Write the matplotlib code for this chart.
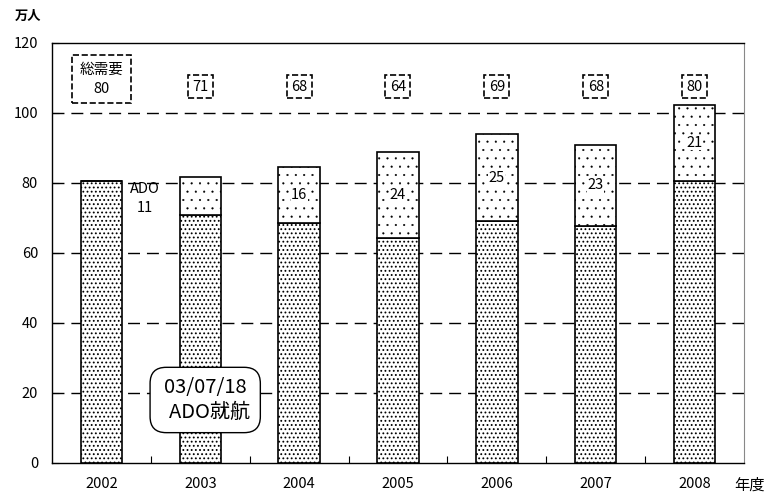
import matplotlib
matplotlib.use("Agg")
import matplotlib.pyplot as plt
import numpy as np

plt.rcParams["font.family"] = ["Noto Sans CJK JP", "DejaVu Sans"]

years = ["2002", "2003", "2004", "2005", "2006", "2007", "2008"]
base = [80.5, 70.9, 68.6, 64.3, 69.1, 67.7, 80.6]
ado = [0, 10.8, 16.0, 24.6, 24.9, 23.2, 21.7]
total_labels = ["80", "71", "68", "64", "69", "68", "80"]
ado_labels = ["", "11", "16", "24", "25", "23", "21"]

fig = plt.figure(figsize=(7.71, 4.98), dpi=100)
ax = fig.add_axes([0.0674, 0.0703, 0.8976, 0.8434])

x = np.arange(len(years))
w = 0.42
with plt.rc_context({"hatch.linewidth": 0.8}):
    b1 = ax.bar(x, base, w, color="white", edgecolor="black", hatch="....", linewidth=1.2, zorder=3)
with plt.rc_context({"hatch.linewidth": 0.3}):
    b2 = ax.bar(x, ado, w, bottom=base, color="white", edgecolor="black", hatch="..", linewidth=1.2, zorder=3)
for bars, hl in ((b1, 0.8), (b2, 0.3)):
    for p in bars:
        if hasattr(p, "set_hatch_linewidth"):
            p.set_hatch_linewidth(hl)

for i in range(1, len(years)):
    if i == 1:
        ax.text(i - 0.56, 75.6, "ADO\n" + ado_labels[i], ha="center", va="center",
                fontsize=10.5, linespacing=1.5, zorder=5)
    else:
        ax.text(i, base[i] + ado[i] / 2, ado_labels[i], ha="center", va="center", fontsize=10.5, zorder=5,
                bbox=dict(facecolor="white", edgecolor="none", pad=0.3))

ax.text(0, 109.7, "総需要\n" + total_labels[0], ha="center", va="center", fontsize=10.5, linespacing=1.45,
        bbox=dict(boxstyle="square,pad=0.5", facecolor="white", edgecolor="black", linestyle="--", linewidth=1.2))
for i in range(1, len(years)):
    ax.text(i, 107.5, total_labels[i], ha="center", va="center", fontsize=10.5,
            bbox=dict(boxstyle="square,pad=0.3", facecolor="white", edgecolor="black", linestyle="--", linewidth=1.2))

ax.text(1.05, 18, "03/07/18\n  ADO就航", ha="center", va="center", fontsize=14.5, linespacing=1.2, zorder=6,
        bbox=dict(boxstyle="round,pad=0.5,rounding_size=0.8", facecolor="white", edgecolor="black", linewidth=1.0))

ax.set_xlim(-0.5, 6.5)
ax.set_ylim(0, 120)
ax.set_yticks(range(0, 121, 20))
ax.set_xticks(x)
ax.set_xticklabels(years, fontsize=10.5)
ax.tick_params(axis="y", labelsize=10.5, direction="in", length=5, width=0.8, pad=10)
ax.tick_params(axis="x", which="major", length=0, pad=10)
ax.set_xticks(np.arange(0.5, 6.5, 1), minor=True)
ax.tick_params(axis="x", which="minor", direction="in", length=5, width=0.8)
for v in range(20, 120, 20):
    ax.axhline(v, color="black", linestyle=(0, (8.6, 5)), linewidth=1.0, zorder=1)
for s in ["left", "bottom", "top"]:
    ax.spines[s].set_color("black")
    ax.spines[s].set_linewidth(1.0)
ax.spines["right"].set_color("#888888")

fig.text(15 / 771, 1 - 16 / 498, "万人", fontsize=9.5, va="center", ha="left", fontweight="bold")
fig.text(734 / 771, 1 - 485 / 498, "年度", fontsize=11, va="center", ha="left")

fig.savefig("out.png", dpi=100)
